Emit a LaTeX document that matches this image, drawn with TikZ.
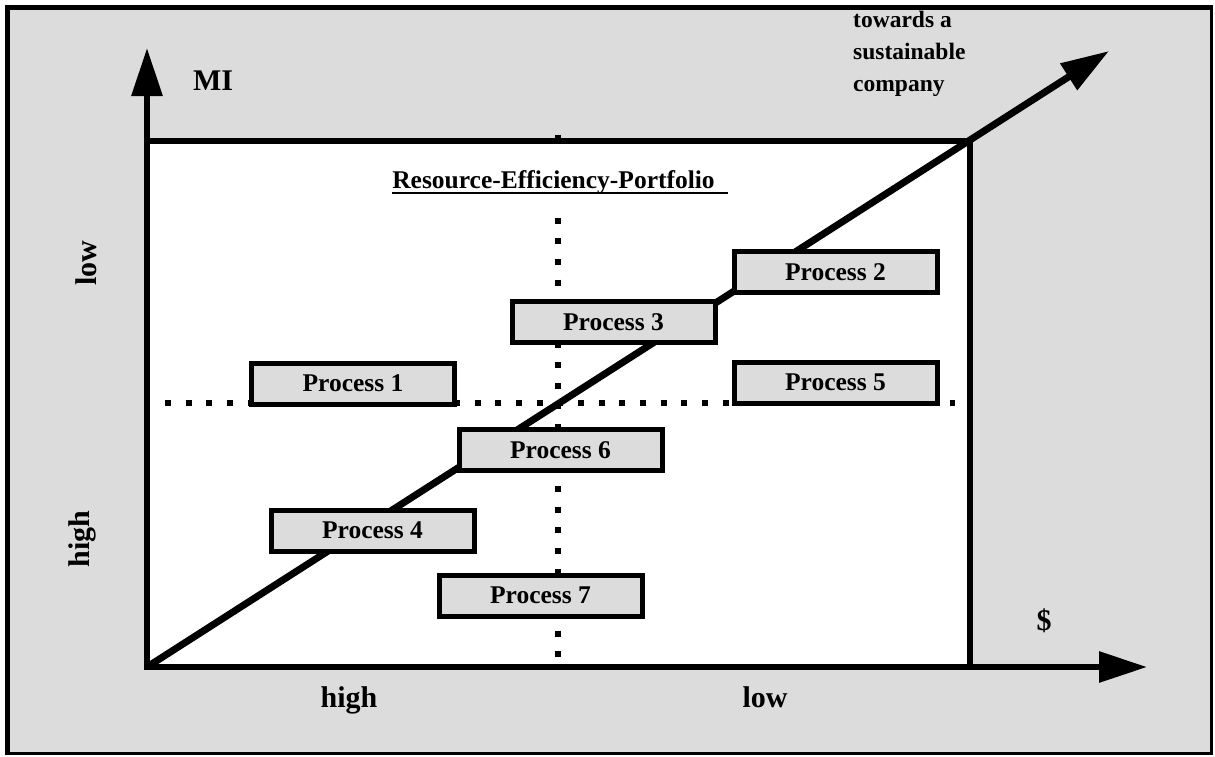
\documentclass[tikz,border=0pt]{standalone}
\usepackage{fontspec}
\setmainfont{Liberation Serif}
\usetikzlibrary{arrows.meta}
\definecolor{bg}{RGB}{220,220,220}
\begin{document}
\begin{tikzpicture}[x=1pt,y=-1pt,
  proc/.style={draw=black, line width=5pt, fill=bg, minimum width=203pt, minimum height=41pt, inner sep=0pt, font=\fontsize{25.5}{30}\selectfont\bfseries},
  lbl/.style={font=\fontsize{30}{34}\selectfont\bfseries, inner sep=0pt},
  dotline/.style={line width=6pt, dash pattern=on 6pt off 14.65pt},
  axis/.style={line width=6pt, -{Triangle[length=48pt,width=30pt]}},
]
\useasboundingbox (0,0) rectangle (1215,756);
% background
\fill[bg] (5,5) rectangle (1213,755);
\draw[line width=5pt] (7.5,5) -- (7.5,755);
\draw[line width=5pt] (5,7.5) -- (1213,7.5);
\draw[line width=3pt] (1211.5,5) -- (1211.5,755);
\draw[line width=3pt] (5,753.5) -- (1213,753.5);
% inner field
\draw[line width=5.5pt, fill=white] (147,141) rectangle (970,667);
% coordinates
\coordinate (O) at (147,667);
\coordinate (ytip) at (147,48);
\coordinate (xtip) at (1147,667);
\coordinate (dtip) at (1109,51);
\coordinate (vtop) at (558,135);
\coordinate (vbot) at (558,659);
\coordinate (hleft) at (165,403);
\coordinate (hright) at (955,403);
% dotted quadrant lines
\draw[dotline] (vtop) -- (vbot);
\draw[dotline] (hleft) -- (hright);
% title
\node[anchor=base, fill=white, inner sep=0pt, text height=33pt, text depth=16pt,
      font=\fontsize{25.5}{30}\selectfont\bfseries] (title) at (553.5,188) {Resource-Efficiency-Portfolio};
\draw[line width=2.6pt] ([yshift=-5pt]title.base west) -- ([xshift=13pt,yshift=-5pt]title.base east);
% diagonal and axes
\draw[axis, line width=7pt] (O) -- (dtip);
\draw[axis] (O) -- (ytip);
\draw[axis] (O) -- (xtip);
% processes
\node[proc] (p1) at (353,383.5) {Process 1};
\node[proc] (p2) at (835.5,272) {Process 2};
\node[proc] (p3) at (613.5,322) {Process 3};
\node[proc] (p4) at (372.5,530.5) {Process 4};
\node[proc] (p5) at (835.5,382.5) {Process 5};
\node[proc] (p6) at (560.5,450) {Process 6};
\node[proc] (p7) at (540.5,595.5) {Process 7};
% labels
\node[lbl, anchor=base] (mi) at (213,90) {MI};
\node[lbl, anchor=base] (dollar) at (1044,630) {\$};
\node[lbl, anchor=base] (xhigh) at (349,707) {high};
\node[lbl, anchor=base] (xlow) at (765,707) {low};
\node[lbl, rotate=90] (ylow) at (86.5,263) {low};
\node[lbl, rotate=90] (yhigh) at (82,539) {high};
\node[inner sep=0pt, anchor=west, align=left, font=\fontsize{23.5}{32}\selectfont\bfseries] (towards) at (853,54) {towards a\\sustainable\\company};
\end{tikzpicture}
\end{document}
